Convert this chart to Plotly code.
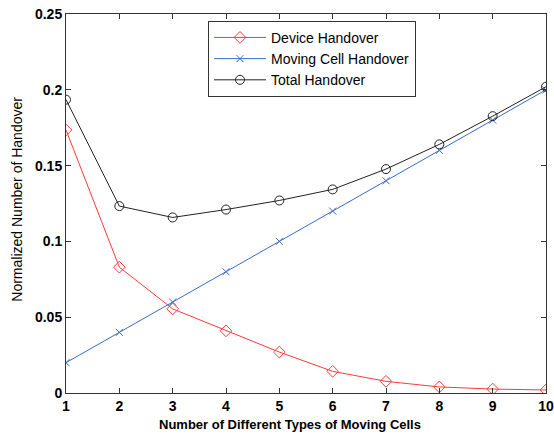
import plotly.graph_objects as go

x_vals = [1, 2, 3, 4, 5, 6, 7, 8, 9, 10]
device_handover = [0.1735, 0.083, 0.0555, 0.041, 0.027, 0.0143, 0.0077, 0.004, 0.0026, 0.002]
moving_cell_handover = [0.02, 0.04, 0.06, 0.08, 0.10, 0.12, 0.14, 0.16, 0.18, 0.20]
total_handover = [0.1935, 0.1233, 0.1158, 0.121, 0.127, 0.1343, 0.1477, 0.164, 0.1826, 0.202]
y_ticks = [0, 0.05, 0.1, 0.15, 0.2, 0.25]
y_tick_labels = ["0", "0.05", "0.1", "0.15", "0.2", "0.25"]

fig = go.Figure()
fig.add_trace(go.Scatter(x=x_vals, y=device_handover, mode="lines+markers", name="Device Handover",
                         line=dict(color="#ff3a3a", width=1),
                         marker=dict(symbol="diamond-open", size=9, color="#ff3a3a", line=dict(width=1))))
fig.add_trace(go.Scatter(x=x_vals, y=moving_cell_handover, mode="lines+markers", name="Moving Cell Handover",
                         line=dict(color="#3a6cc8", width=1),
                         marker=dict(symbol="x-thin-open", size=7, color="#3a6cc8", line=dict(width=1, color="#3a6cc8"))))
fig.add_trace(go.Scatter(x=x_vals, y=total_handover, mode="lines+markers", name="Total Handover",
                         line=dict(color="#222222", width=1),
                         marker=dict(symbol="circle-open", size=9, color="#222222", line=dict(width=1))))

tickfont = dict(family="Arial, Liberation Sans", size=14, color="black")
fig.update_layout(
    width=554, height=435,
    margin=dict(l=66, r=8, t=14, b=42, autoexpand=False),
    paper_bgcolor="white", plot_bgcolor="white",
    showlegend=True,
    legend=dict(x=(208 - 66) / 480, y=0.982, xanchor="left", yanchor="top",
                bordercolor="#333333", borderwidth=1, bgcolor="white",
                font=dict(family="Arial, Liberation Sans", size=14, color="black"),
                tracegroupgap=0, itemwidth=52),
    xaxis=dict(range=[1, 10], tickmode="array", tickvals=x_vals, ticktext=[f"<b>{v}</b>" for v in x_vals],
               ticks="inside", ticklen=5, tickcolor="#333333", showline=True, linecolor="#333333",
               mirror="ticks", showgrid=False, zeroline=False, tickfont=tickfont, automargin=False),
    yaxis=dict(range=[0, 0.25], tickmode="array", tickvals=y_ticks, ticktext=[f"<b>{t}</b>" for t in y_tick_labels],
               ticks="inside", ticklen=5, tickcolor="#333333", showline=True, linecolor="#333333",
               mirror="ticks", showgrid=False, zeroline=False, tickfont=tickfont, automargin=False),
    annotations=[
        dict(text="<b>Number of Different Types of Moving Cells</b>", xref="paper", yref="paper",
             x=(290 - 66) / 480, y=-0.082, xanchor="center", yanchor="middle", showarrow=False,
             font=dict(family="Arial, Liberation Sans", size=13, color="black")),
        dict(text="Normalized Number of Handover", xref="paper", yref="paper",
             x=(17 - 66) / 480, y=0.51, xanchor="center", yanchor="middle", showarrow=False, textangle=-90,
             font=dict(family="Arial, Liberation Sans", size=14, color="black")),
    ],
)
fig.write_html("out.html", config={"displayModeBar": False},
               post_script="document.body.style.margin='0';document.body.style.overflow='hidden';")
